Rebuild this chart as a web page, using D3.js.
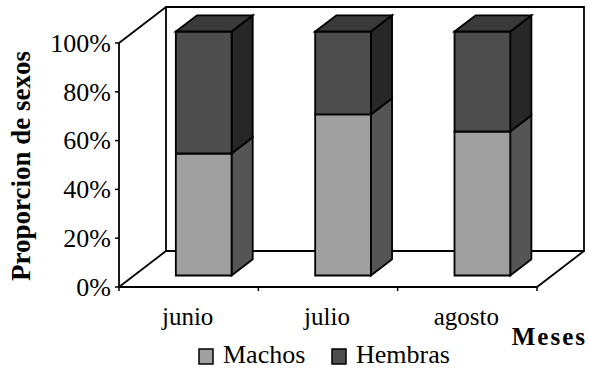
<!DOCTYPE html>
<html>
<head>
<meta charset="utf-8">
<script src="https://cdn.jsdelivr.net/npm/d3@7"></script>
<style>
  html, body { margin: 0; padding: 0; background: #fff; }
  svg { display: block; }
  text { font-family: "Liberation Serif", "Times New Roman", serif; fill: #000; }
</style>
</head>
<body>
<svg id="chart" width="589" height="370"></svg>
<script>
// Monthly sex proportion (%), stacked to 100
const months = ["junio", "julio", "agosto"];
const machos = [50, 66, 59];
const hembras = [50, 34, 41];
const seriesNames = ["Machos", "Hembras"];
const yTicks = [0, 20, 40, 60, 80, 100];

const colors = {
  Machos:  { front: "#a0a0a0", side: "#555555", top: "#8a8a8a" },
  Hembras: { front: "#4d4d4d", side: "#272727", top: "#3a3a3a" }
};

const svg = d3.select("#chart");

// Plot frame: front plane of the floor and the depth vector of the 3D box
const x0 = 119, x1 = 537, yBottom = 287, yTop = 43;
const depth = { dx: 47, dy: -36 };
const barFront = 0.32, barBack = 0.77;   // bar faces as fractions of the depth

const x = d3.scaleBand().domain(months).range([x0, x1]).paddingInner(0).paddingOuter(0);
const y = d3.scaleLinear().domain([0, 100]).range([yBottom, yTop]);
const barW = x.bandwidth() * 0.4;

const line = (pts) => "M" + pts.map(p => p.join(",")).join("L");
const off = (p, f) => [p[0] + depth.dx * f, p[1] + depth.dy * f];

// Back wall and floor outline
const g = svg.append("g").attr("fill", "none").attr("stroke", "#000").attr("stroke-width", 1.8);
const bl = off([x0, yBottom], 1), tl = off([x0, yTop], 1);
const br = off([x1, yBottom], 1), tr = [x1 + depth.dx, yTop + depth.dy];
g.append("path").attr("d", line([bl, tl, tr, [tr[0], br[1]], bl]));
g.append("path").attr("d", line([[x0, yTop], tl]));
g.append("path").attr("d", line([[x0, yBottom], bl]));
g.append("path").attr("d", line([[x0, yBottom], [x1, yBottom], br]));

// Value axis
g.append("path").attr("d", line([[x0, yTop], [x0, yBottom]]));
svg.append("g").selectAll("path").data(yTicks).join("path")
  .attr("d", d => line([[x0 - 4, y(d)], [x0, y(d)]]))
  .attr("stroke", "#000").attr("stroke-width", 1.5);
svg.append("g").selectAll("text").data(yTicks).join("text")
  .attr("x", 111).attr("y", d => y(d)).attr("dy", "0.34em")
  .attr("text-anchor", "end").attr("font-size", 26)
  .text(d => d + "%");

// Category ticks on the floor front edge
const catTicks = months.map(m => x(m)).concat([x1]);
svg.append("g").selectAll("path").data(catTicks).join("path")
  .attr("d", d => line([[d, yBottom], [d, yBottom + 4]]))
  .attr("stroke", "#000").attr("stroke-width", 1.5);

// Stacked 3D bars
const stacked = months.map((m, i) => {
  const vals = [machos[i], hembras[i]];
  let acc = 0;
  return vals.map((v, k) => {
    const seg = { month: m, series: seriesNames[k], y0: acc, y1: acc + v, last: k === vals.length - 1 };
    acc += v;
    return seg;
  });
});

const bars = svg.append("g").attr("stroke", "#000").attr("stroke-width", 1.8).attr("stroke-linejoin", "miter");
stacked.forEach(segs => {
  segs.forEach(s => {
    const cx = x(s.month) + x.bandwidth() / 2;
    const L = cx - barW / 2, R = cx + barW / 2;
    const fb = off([L, y(s.y0)], barFront), ft = off([L, y(s.y1)], barFront);
    const rb = off([R, y(s.y0)], barFront), rt = off([R, y(s.y1)], barFront);
    const sd = barBack - barFront;
    const rbB = off(rb, sd), rtB = off(rt, sd), ltB = off(ft, sd);
    const c = colors[s.series];
    bars.append("path").attr("fill", c.side).attr("d", line([rb, rbB, rtB, rt]) + "Z");
    bars.append("path").attr("fill", c.front).attr("d", line([fb, ft, rt, rb]) + "Z");
    if (s.last) {
      bars.append("path").attr("fill", c.top).attr("d", line([ft, ltB, rtB, rt]) + "Z");
    }
  });
});

// Category labels
svg.append("g").selectAll("text").data(months).join("text")
  .attr("x", d => x(d) + x.bandwidth() / 2 - 1).attr("y", 325)
  .attr("text-anchor", "middle").attr("font-size", 25)
  .text(d => d);

// Axis titles
svg.append("text")
  .attr("transform", "translate(30,166) rotate(-90)")
  .attr("text-anchor", "middle").attr("font-size", 27).attr("font-weight", "bold")
  .text("Proporcion de sexos");
svg.append("text")
  .attr("x", 587).attr("y", 345).attr("text-anchor", "end")
  .attr("font-size", 25).attr("font-weight", "bold").attr("letter-spacing", 2)
  .text("Meses");

// Legend
const legendX = [199, 332];
const lg = svg.append("g").selectAll("g").data(seriesNames).join("g")
  .attr("transform", (d, i) => `translate(${legendX[i]},349)`);
lg.append("rect").attr("width", 14).attr("height", 15)
  .attr("fill", d => colors[d].front).attr("stroke", "#000").attr("stroke-width", 1.5);
lg.append("text").attr("x", 24).attr("y", 14).attr("font-size", 26).text(d => d);
</script>
</body>
</html>
